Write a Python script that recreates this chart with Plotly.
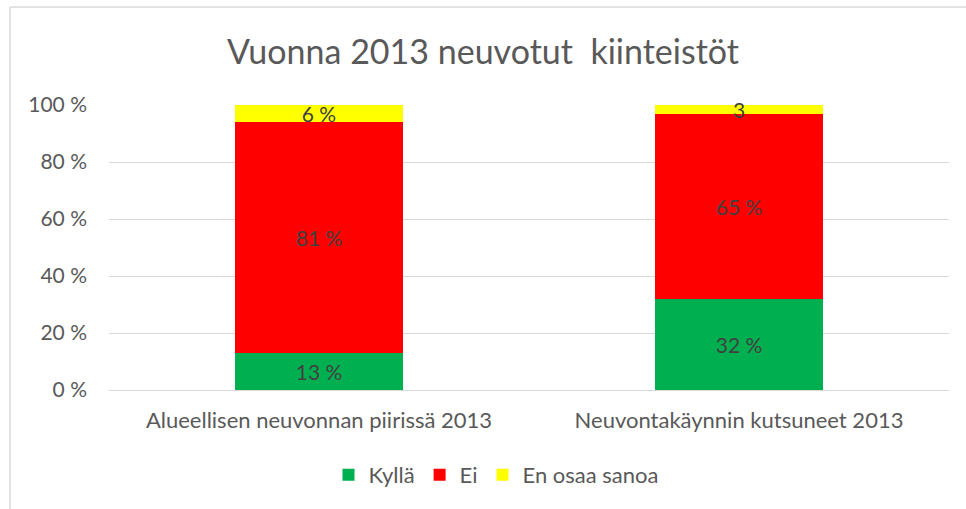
import plotly.graph_objects as go

categories = ["Alueellisen neuvonnan piirissä 2013", "Neuvontakäynnin kutsuneet 2013"]
series_names = ["Kyllä", "Ei", "En osaa sanoa"]
kylla = [13, 32]
ei = [81, 65]
eos = [6, 3]
labels_kylla = ["13 %", "32 %"]
labels_ei = ["81 %", "65 %"]
labels_eos = ["6 %", "3"]
tick_vals = [0, 20, 40, 60, 80, 100]
tick_text = ["0 %", "20 %", "40 %", "60 %", "80 %", "100 %"]
title_text = "Vuonna 2013 neuvotut  kiinteistöt"

colors = ["#00B050", "#FF0000", "#FFFF00"]
FONT = "Lato, Open Sans, sans-serif"
TXT = "#595959"

fig = go.Figure()
for name, vals, labs, col in zip(series_names, [kylla, ei, eos],
                                 [labels_kylla, labels_ei, labels_eos], colors):
    fig.add_trace(go.Bar(
        name=name, x=categories, y=vals, marker=dict(color=col, line=dict(width=0)),
        text=labs, textposition="inside", insidetextanchor="middle",
        constraintext="none", textangle=0, cliponaxis=False,
        textfont=dict(family=FONT, size=21, color="#404040"),
        hoverinfo="skip",
    ))

L, R, T, B = 109, 17, 105, 119
W, H = 966, 509
pw, ph = W - L - R, H - T - B

def px_x(x):
    return (x - L) / pw

def px_y(y):
    return (H - B - y) / ph

frame = "#D9D9D9"
fig.update_layout(
    barmode="stack", bargap=0.6,
    width=W, height=H,
    margin=dict(l=L, r=R, t=T, b=B),
    paper_bgcolor="white", plot_bgcolor="white",
    font=dict(family=FONT, color=TXT),
    title=dict(text=title_text, x=px_x(483), xref="paper", xanchor="center",
               y=1 - 52 / H, yanchor="middle",
               font=dict(family=FONT, size=34, color=TXT)),
    showlegend=True,
    legend=dict(orientation="h", x=px_x(496), xanchor="center",
                y=px_y(475), yanchor="middle",
                font=dict(family=FONT, size=22, color=TXT),
                traceorder="normal", itemwidth=30),
    xaxis=dict(showgrid=False, showline=False, ticks="", automargin=False,
               ticklabelstandoff=15,
               tickfont=dict(family=FONT, size=22, color=TXT)),
    yaxis=dict(range=[0, 100], tickvals=tick_vals, ticktext=tick_text,
               showgrid=True, gridcolor=frame, gridwidth=1,
               zeroline=True, zerolinecolor=frame, zerolinewidth=1,
               showline=False, ticks="", ticklabelstandoff=21, automargin=False,
               tickfont=dict(family=FONT, size=21, color=TXT)),
    shapes=[
        dict(type="line", xref="paper", yref="paper",
             x0=px_x(10), x1=px_x(970), y0=px_y(7), y1=px_y(7),
             line=dict(color=frame, width=1.5)),
        dict(type="line", xref="paper", yref="paper",
             x0=px_x(10), x1=px_x(10), y0=px_y(7), y1=px_y(515),
             line=dict(color=frame, width=1.5)),
    ],
)

fig.write_html("out.html", post_script="document.body.style.margin='0';",
               config={"displayModeBar": False, "staticPlot": True})
